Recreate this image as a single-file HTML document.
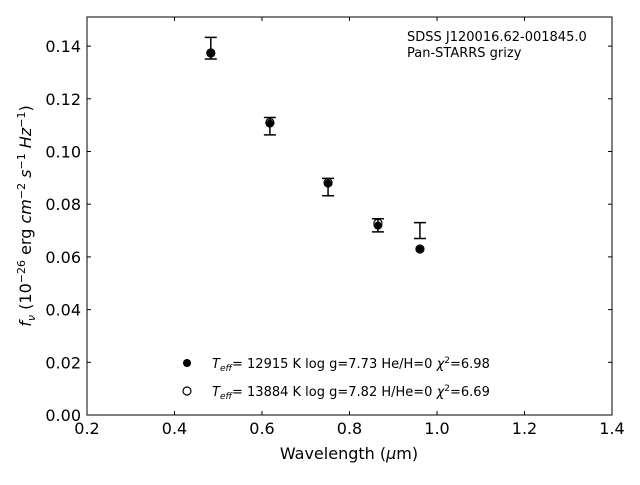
<!DOCTYPE html>
<html><head><meta charset="utf-8"><style>
body{margin:0;background:#fff;font-family:"Liberation Sans","DejaVu Sans",sans-serif}
svg text{font-family:"DejaVu Sans","Liberation Sans",sans-serif}
</style></head><body>
<svg id="chart" width="640" height="480" xmlns="http://www.w3.org/2000/svg">
<rect x="0" y="0" width="640" height="480" fill="#fff"/>
<g id="plot"></g>
<rect x="87" y="17" width="525" height="398" fill="none" stroke="#000" stroke-width="1"/>
<text x="407" y="41" font-size="13">SDSS J120016.62-001845.0</text>
<text x="407" y="57" font-size="13">Pan-STARRS grizy</text>
<text x="349" y="459" font-size="16" text-anchor="middle">Wavelength (<tspan font-style="italic">μ</tspan>m)</text>
<text transform="translate(31,216) rotate(-90)" font-size="16" text-anchor="middle"><tspan font-style="italic">f<tspan font-size="11" dy="4">ν</tspan></tspan><tspan dy="-4"> (10</tspan><tspan font-size="11" dy="-6">−26</tspan><tspan dy="6"> erg </tspan><tspan font-style="italic">cm</tspan><tspan font-size="11" dy="-6">−2</tspan><tspan dy="6" font-style="italic"> s</tspan><tspan font-size="11" dy="-6">−1</tspan><tspan dy="6" font-style="italic"> Hz</tspan><tspan font-size="11" dy="-6">−1</tspan><tspan dy="6">)</tspan></text>
<g>
<circle cx="187" cy="363" r="4" fill="#000"/>
<text x="212" y="368" font-size="13"><tspan font-style="italic">T</tspan><tspan font-size="9" dy="3" font-style="italic">eff</tspan><tspan dy="-3">= 12915 K  log g=7.73  He/H=0  </tspan><tspan font-style="italic">χ</tspan><tspan font-size="9" dy="-5">2</tspan><tspan dy="5">=6.98</tspan></text>
<circle cx="187" cy="391" r="4" fill="#fff" stroke="#000" stroke-width="1.2"/>
<text x="212" y="396" font-size="13"><tspan font-style="italic">T</tspan><tspan font-size="9" dy="3" font-style="italic">eff</tspan><tspan dy="-3">= 13884 K  log g=7.82  H/He=0  </tspan><tspan font-style="italic">χ</tspan><tspan font-size="9" dy="-5">2</tspan><tspan dy="5">=6.69</tspan></text>
</g>
</svg>
<script>
const wavelengths=[0.483,0.618,0.751,0.865,0.961];
const obsFlux=[0.1392,0.1096,0.0865,0.0720,0.0700];
const obsErr=[0.0041,0.0033,0.0033,0.0025,0.0030];
const modelHe=[0.1374,0.1108,0.0880,0.0721,0.0630];
const modelH=[0.1374,0.1110,0.0882,0.0728,0.0630];
const xTicks=[0.2,0.4,0.6,0.8,1.0,1.2,1.4];
const yTicks=[0.00,0.02,0.04,0.06,0.08,0.10,0.12,0.14];
const X=v=>87+(v-0.2)*525/1.2;
const Y=v=>415-v*2635;
const NS="http://www.w3.org/2000/svg";
const g=document.getElementById('plot');
function mk(t,a){const e=document.createElementNS(NS,t);for(const k in a)e.setAttribute(k,a[k]);g.appendChild(e);return e;}
xTicks.forEach(v=>{
 const l=mk('line',{x1:X(v),x2:X(v),y1:415,y2:411,stroke:'#000'});
 
 
 const l2=mk('line',{x1:X(v),x2:X(v),y1:17,y2:21,stroke:'#000'});
 
 
 const t=mk('text',{x:X(v),y:434,'font-size':16,'text-anchor':'middle'});
 t.textContent=v.toFixed(1);
 
 
});
yTicks.forEach(v=>{
 const l=mk('line',{x1:87,x2:91,y1:Y(v),y2:Y(v),stroke:'#000'});
 
 
 const l2=mk('line',{x1:612,x2:608,y1:Y(v),y2:Y(v),stroke:'#000'});
 
 
 const t=mk('text',{x:81,y:Y(v)+6,'font-size':16,'text-anchor':'end'});
 t.textContent=v.toFixed(2);
 
 
});
wavelengths.forEach((w,i)=>{
 const x=X(w);
 const c1=mk('circle',{cx:x,cy:Y(modelHe[i]),r:4.5,fill:'#000'});
 
 
 const c2=mk('circle',{cx:x,cy:Y(modelH[i]),r:4,fill:'#fff',stroke:'#000','stroke-width':1.2});
 
 
 const c3=mk('circle',{cx:x,cy:Y(modelHe[i]),r:3.5,fill:'#000'});
 
 
 const top=Y(obsFlux[i]+obsErr[i]),bot=Y(obsFlux[i]-obsErr[i]);
 const eb=mk('path',{d:`M${x},${top}V${bot}M${x-6},${top}H${x+6}M${x-6},${bot}H${x+6}`,stroke:'#000','stroke-width':1.5,fill:'none'});
 
 
});
</script>
</body></html>
